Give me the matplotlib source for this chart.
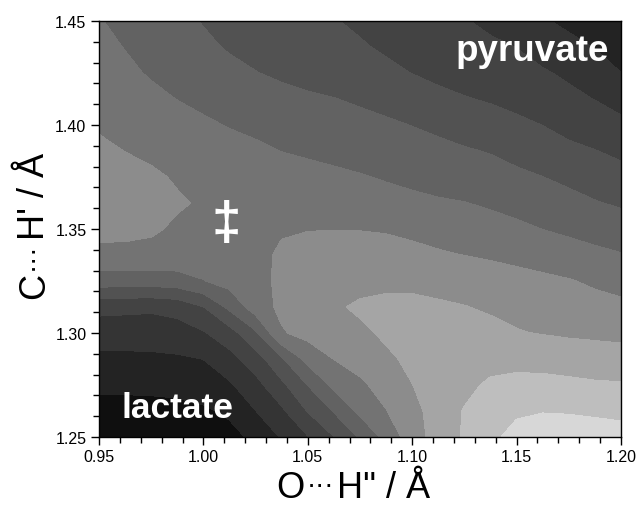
import numpy as np
import matplotlib
matplotlib.use("Agg")
import matplotlib.pyplot as plt
from matplotlib.transforms import IdentityTransform

# O...H'' distance (x) and C...H' distance (y), Angstrom
oh_dist = [0.95, 0.9625, 0.975, 0.9875, 1.00, 1.0125, 1.025, 1.0375, 1.05, 1.0625, 1.075,
           1.0875, 1.10, 1.1125, 1.125, 1.1375, 1.15, 1.1625, 1.175, 1.1875, 1.20]
ch_dist = [1.25, 1.2625, 1.275, 1.2875, 1.30, 1.3125, 1.325, 1.3375, 1.35, 1.3625,
           1.375, 1.3875, 1.40, 1.4125, 1.425, 1.4375, 1.45]

# relative energy (contour band units); rows follow ch_dist, columns follow oh_dist
energy = [
    [0.1, 0.15, 0.2, 0.25, 0.35, 0.7, 1.2, 2.07, 2.93, 3.96, 5.09, 6.3, 7.52, 8.4, 9.1, 9.78, 10.3, 10.5, 10.6, 10.55, 10.45],
    [0.6, 0.6, 0.62, 0.68, 0.85, 1.15, 1.97, 2.8, 4.03, 5.05, 6.2, 6.95, 7.7, 8.4, 9.05, 9.6, 9.85, 9.95, 9.9, 9.8, 9.7],
    [1.2, 1.22, 1.25, 1.3, 1.45, 1.85, 2.65, 3.75, 5.0, 6.2, 6.8, 7.4, 7.98, 8.4, 8.75, 9.15, 9.3, 9.3, 9.2, 9.1, 9.07],
    [1.72, 1.75, 1.78, 1.85, 2.0, 2.65, 3.5, 4.85, 6.3, 7.0, 7.4, 7.82, 8.2, 8.45, 8.6, 8.65, 8.65, 8.6, 8.55, 8.5, 8.45],
    [2.5, 2.5, 2.5, 2.6, 2.9, 3.55, 4.8, 6.9, 7.3, 7.55, 7.8, 8.15, 8.35, 8.35, 8.3, 8.2, 8.05, 7.95, 7.85, 7.78, 7.7],
    [3.25, 3.2, 3.15, 3.3, 3.95, 5.2, 6.5, 7.2, 7.5, 7.85, 8.15, 8.25, 8.2, 8.1, 8.02, 7.9, 7.75, 7.6, 7.45, 7.3, 7.2],
    [5.5, 5.45, 5.45, 5.55, 5.95, 6.35, 6.75, 7.15, 7.4, 7.55, 7.65, 7.75, 7.8, 7.75, 7.65, 7.5, 7.35, 7.2, 7.05, 6.85, 6.65],
    [6.7, 6.72, 6.72, 6.68, 6.6, 6.65, 6.8, 7.1, 7.25, 7.3, 7.32, 7.28, 7.2, 7.08, 6.98, 6.85, 6.7, 6.55, 6.4, 6.22, 6.05],
    [7.3, 7.25, 7.12, 6.85, 6.7, 6.7, 6.8, 6.93, 6.97, 6.98, 6.97, 6.93, 6.82, 6.7, 6.55, 6.38, 6.2, 5.98, 5.8, 5.6, 5.4],
    [7.45, 7.4, 7.3, 7.1, 6.9, 6.78, 6.7, 6.65, 6.58, 6.5, 6.4, 6.3, 6.2, 6.1, 6.02, 5.85, 5.65, 5.45, 5.25, 5.05, 4.88],
    [7.45, 7.35, 7.15, 6.9, 6.75, 6.6, 6.48, 6.38, 6.25, 6.15, 6.05, 5.92, 5.78, 5.62, 5.45, 5.3, 5.17, 5.0, 4.8, 4.55, 4.3],
    [7.2, 6.98, 6.8, 6.6, 6.42, 6.28, 6.13, 5.98, 5.88, 5.78, 5.66, 5.52, 5.38, 5.2, 5.07, 4.95, 4.72, 4.45, 4.2, 4.02, 3.8],
    [6.88, 6.7, 6.5, 6.3, 6.12, 5.95, 5.83, 5.72, 5.6, 5.45, 5.3, 5.15, 4.97, 4.82, 4.62, 4.4, 4.2, 3.98, 3.7, 3.45, 3.2],
    [6.6, 6.35, 6.18, 5.98, 5.8, 5.6, 5.4, 5.25, 5.12, 5.02, 4.85, 4.65, 4.4, 4.2, 4.05, 3.9, 3.7, 3.45, 3.2, 2.97, 2.65],
    [6.4, 6.15, 5.92, 5.65, 5.4, 5.2, 5.02, 4.85, 4.7, 4.52, 4.35, 4.18, 3.98, 3.8, 3.6, 3.42, 3.25, 3.08, 2.85, 2.45, 2.0],
    [6.2, 5.97, 5.72, 5.45, 5.15, 4.92, 4.75, 4.6, 4.45, 4.28, 4.08, 3.88, 3.7, 3.5, 3.3, 3.15, 2.98, 2.65, 2.3, 1.95, 1.6],
    [6.05, 5.75, 5.5, 5.2, 4.95, 4.75, 4.55, 4.4, 4.22, 4.04, 3.85, 3.65, 3.45, 3.25, 3.05, 2.8, 2.5, 2.1, 1.75, 1.45, 1.2],
]
contour_levels = list(range(0, 12))
band_grays = [15, 35, 52, 67, 82, 98, 115, 140, 165, 190, 215]

x_ticks = [0.95, 1.00, 1.05, 1.10, 1.15, 1.20]
y_ticks = [1.25, 1.30, 1.35, 1.40, 1.45]

plt.rcParams['font.family'] = ['Liberation Sans', 'DejaVu Sans']

fig = plt.figure(figsize=(6.37, 5.10), dpi=100)
ax = fig.add_axes([99/637, 1-438/510, (621-99)/637, (438-22)/510])

X, Y = np.meshgrid(oh_dist, ch_dist)
Z = np.array(energy)
cols = ['#%02x%02x%02x' % (g, g, g) for g in band_grays]
cs = ax.contourf(X, Y, Z, levels=contour_levels, colors=cols)
cs.set_edgecolor('face')
cs.set_linewidth(0.6)

ax.set_xlim(0.95, 1.20)
ax.set_ylim(1.25, 1.45)
ax.set_xticks(x_ticks)
ax.set_yticks(y_ticks)
ax.set_xticklabels(['%.2f' % v for v in x_ticks])
ax.set_yticklabels(['%.2f' % v for v in y_ticks])
ax.set_xticks(np.arange(0.95, 1.2001, 0.01), minor=True)
ax.set_yticks(np.arange(1.25, 1.4501, 0.01), minor=True)
ax.tick_params(which='major', direction='out', length=6, width=1, labelsize=11.5, pad=3)
ax.tick_params(which='minor', direction='out', length=4, width=1)
for s in ax.spines.values():
    s.set_linewidth(1)

ax.text(1.1574, 1.4313, 'pyruvate', color='white', fontsize=26.5, fontweight='bold',
        ha='center', va='baseline')
ax.text(0.9876, 1.2596, 'lactate', color='white', fontsize=25.5, fontweight='bold',
        ha='center', va='baseline')
ax.text(1.0108, 1.3524, '\u2021', color='white', fontsize=38, fontweight='bold',
        ha='center', va='center')

# axis titles built from pieces so that the small "..." sits tight between atoms
renderer = fig.canvas.get_renderer()
tr = IdentityTransform()


def chain(pieces, x0, y0, vertical):
    pos = 0.0
    for txt, size, raise_px, gap in pieces:
        pos += gap
        if vertical:
            t = fig.text(x0 - raise_px, y0 + pos, txt, fontsize=size, transform=tr,
                         rotation=90, rotation_mode='anchor', ha='left', va='baseline')
            pos += t.get_window_extent(renderer).height
        else:
            t = fig.text(x0 + pos, y0 + raise_px, txt, fontsize=size, transform=tr,
                         ha='left', va='baseline')
            pos += t.get_window_extent(renderer).width


chain([('O', 26, 0, 0), ('\u00b7\u00b7\u00b7', 20, 5, 3), ('H" / \u00c5', 26, 0, 2)],
      276, 510 - 498, False)
chain([('C', 26, 0, 0), ('\u00b7\u00b7\u00b7', 20, 5, 3), ("H' / \u00c5", 26, 0, 2)],
      44, 510 - 299, True)

fig.savefig('out.png', dpi=100)
